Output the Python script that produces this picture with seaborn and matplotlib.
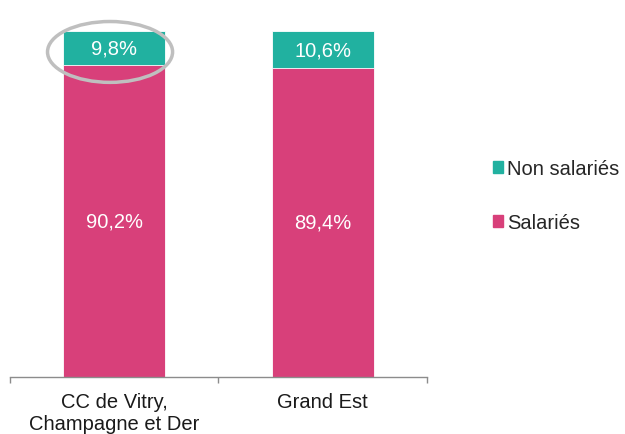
import matplotlib
matplotlib.use("Agg")
import matplotlib.pyplot as plt
from matplotlib.patches import Ellipse, Patch
import seaborn as sns
import pandas as pd

# data
territoires = ["CC de Vitry,\nChampagne et Der", "Grand Est"]
salaries = [90.2, 89.4]
non_salaries = [9.8, 10.6]

sns.set_theme(style="white")
plt.rcParams["font.family"] = ["Liberation Sans", "DejaVu Sans"]

teal = "#21B1A0"
pink = "#D8407A"

data = pd.DataFrame({
    "territoire": territoires,
    "salaries": salaries,
    "total": [s + n for s, n in zip(salaries, non_salaries)],
})

fig = plt.figure(figsize=(6.25, 4.35), dpi=100)
ax = fig.add_axes([0.016, 0.131, 0.667, 0.795])

# stacked: full bar in teal, salariés drawn over it in pink
sns.barplot(data=data, x="territoire", y="total", color=teal, width=0.49,
            saturation=1, edgecolor="white", linewidth=0.6, ax=ax)
sns.barplot(data=data, x="territoire", y="salaries", color=pink, width=0.49,
            saturation=1, edgecolor="white", linewidth=0.6, ax=ax)

ax.bar_label(ax.containers[1], labels=[f"{v:.1f}%".replace(".", ",") for v in salaries],
             label_type="center", color="white", fontsize=14.5)
for i, (s, n) in enumerate(zip(salaries, non_salaries)):
    ax.text(i, s + n / 2, f"{n:.1f}%".replace(".", ","), ha="center", va="center",
            color="white", fontsize=14.5)

ax.set_xlim(-0.5, 1.5)
ax.set_ylim(0, 100)
ax.set_xlabel("")
ax.set_ylabel("")
ax.set_yticks([])
for side in ["top", "right", "left"]:
    ax.spines[side].set_visible(False)
ax.spines["bottom"].set_color("#8c8c8c")
ax.spines["bottom"].set_linewidth(1)
ax.set_xticks([-0.5, 0.5, 1.5], minor=True)
ax.tick_params(axis="x", which="minor", bottom=True, length=4.5, color="#8c8c8c", width=1)
ax.tick_params(axis="x", which="major", bottom=False, length=0, labelsize=14.5,
               labelcolor="#1a1a1a", pad=11)

# highlight circle around the first value
ax.add_patch(Ellipse((-0.02, 94.0), 0.6, 17.6, fill=False, edgecolor="#BFBFBF",
                     linewidth=2.5, clip_on=False))

handles = [Patch(color=teal, label="Non salariés"), Patch(color=pink, label="Salariés")]
fig.legend(handles=handles, loc="center left", bbox_to_anchor=(0.772, 0.548),
           frameon=False, fontsize=14.5, handlelength=0.5, handleheight=0.5,
           handletextpad=0.2, labelspacing=1.75, borderpad=0)

fig.savefig("out.png", dpi=100)
